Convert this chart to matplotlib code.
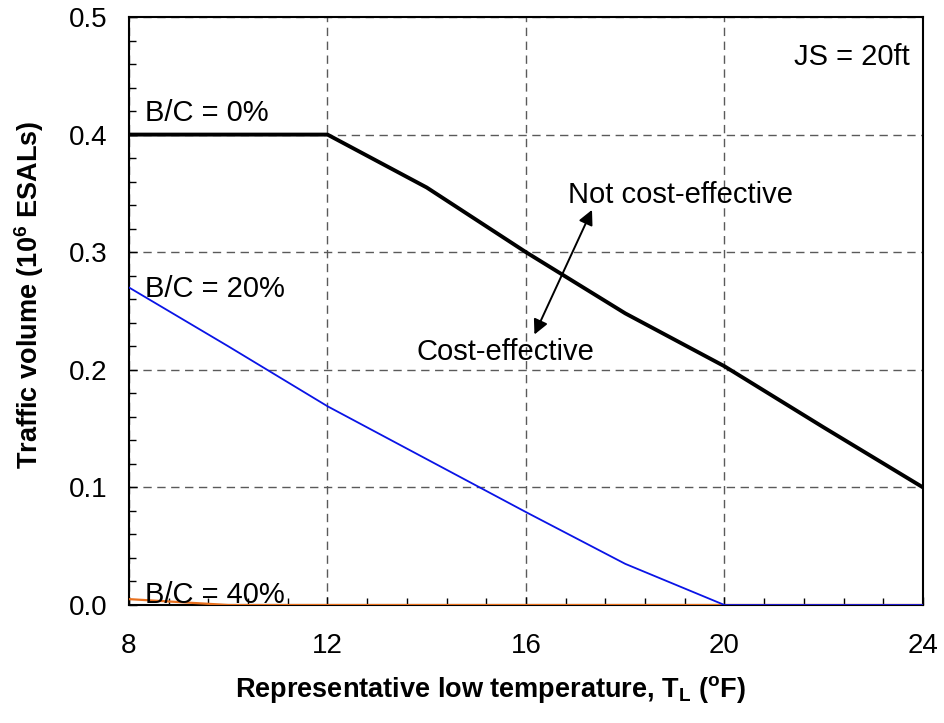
import numpy as np
import matplotlib
matplotlib.use("Agg")
import matplotlib.pyplot as plt
from matplotlib.ticker import MultipleLocator, FormatStrFormatter

# Font setup (Arial-like look).
plt.rcParams['font.family'] = ['Liberation Sans', 'DejaVu Sans']
plt.rcParams['mathtext.fontset'] = 'custom'
plt.rcParams['mathtext.rm'] = 'Liberation Sans'
plt.rcParams['mathtext.bf'] = 'Liberation Sans:bold'

# Data: traffic volume thresholds vs low temperature, joint spacing 20 ft.
temp = [8, 10, 12, 14, 16, 18, 20, 22, 24]
bc_0 = [0.400, 0.400, 0.400, 0.355, 0.300, 0.248, 0.203, 0.151, 0.100]
bc_20 = [0.270, 0.220, 0.169, 0.124, 0.079, 0.035, 0.0, 0.0, 0.0]
bc_40 = [0.005, 0.0, 0.0, 0.0, 0.0, 0.0, 0.0, 0.0, 0.0]

fig = plt.figure(figsize=(9.45, 7.23), dpi=100)
ax = fig.add_axes([0.1365, 0.1632, 0.8402, 0.8133])

ax.plot(temp, bc_40, color='#E8701E', lw=1.6, zorder=3)
ax.plot(temp, bc_20, color='#0A14E6', lw=1.3, zorder=4)
ax.plot(temp, bc_0, color='black', lw=2.8, zorder=5)

ax.set_xlim(8, 24)
ax.set_ylim(0, 0.5)
ax.xaxis.set_major_locator(MultipleLocator(4))
ax.xaxis.set_minor_locator(MultipleLocator(0.8))
ax.yaxis.set_major_locator(MultipleLocator(0.1))
ax.yaxis.set_minor_locator(MultipleLocator(0.02))
ax.yaxis.set_major_formatter(FormatStrFormatter('%.1f'))
ax.tick_params(which='both', direction='in', labelsize=20, width=1, color='black')
ax.tick_params(which='major', length=6)
ax.tick_params(which='minor', length=5)
ax.tick_params(axis='x', pad=20)
ax.tick_params(axis='y', pad=15.5)
for s in ax.spines.values():
    s.set_linewidth(1.5)

ax.grid(True, which='major', ls=(0, (6, 4)), color='#5a5a5a', lw=1)

ax.set_xlabel(r'Representative low temperature, $\mathbf{T_L}$ ($\mathbf{^o}$F)',
              fontsize=19.5, fontweight='bold')
ax.set_ylabel(r'Traffic volume (10$\mathbf{^6}$ ESALs)', fontsize=19.5,
              fontweight='bold')
ax.xaxis.set_label_coords(0.455, -0.118)
ax.yaxis.set_label_coords(-0.104, 0.527)

ax.text(8.32, 0.4116, 'B/C = 0%', fontsize=21)
ax.text(8.32, 0.262, 'B/C = 20%', fontsize=21)
ax.text(8.32, 0.0017, 'B/C = 40%', fontsize=21)
ax.text(23.73, 0.459, 'JS = 20ft', fontsize=21, ha='right')
ax.text(16.85, 0.342, 'Not cost-effective', fontsize=21)
ax.text(13.79, 0.208, 'Cost-effective', fontsize=21)

ax.annotate('', xy=(17.33, 0.336), xytext=(16.17, 0.230),
            arrowprops=dict(arrowstyle='<|-|>', color='black', lw=1.4,
                            mutation_scale=22, shrinkA=0, shrinkB=0))

fig.savefig('out.png', dpi=100)
